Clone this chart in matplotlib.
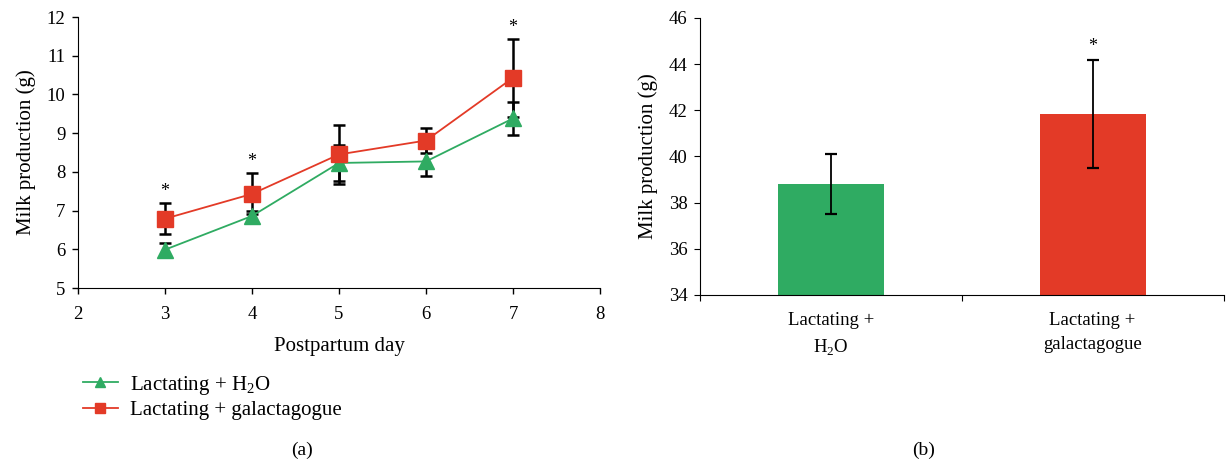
import matplotlib
matplotlib.use("Agg")
import matplotlib.pyplot as plt
import numpy as np

plt.rcParams['font.family'] = ['Liberation Serif', 'DejaVu Serif']
plt.rcParams['mathtext.fontset'] = 'custom'
plt.rcParams['mathtext.rm'] = 'Liberation Serif'

# Panel (a)
days = [3, 4, 5, 6, 7]
h2o_mean = [5.99, 6.86, 8.23, 8.27, 9.38]
h2o_err = [0.18, 0.14, 0.46, 0.38, 0.42]
gal_mean = [6.79, 7.43, 8.45, 8.81, 10.43]
gal_err = [0.40, 0.53, 0.76, 0.32, 1.00]
gal_sig = [True, True, False, False, True]

# Panel (b)
groups = ["Lactating +\nH$_2$O", "Lactating +\ngalactagogue"]
totals = [38.8, 41.85]
totals_err = [1.3, 2.35]
totals_sig = [False, True]

green = '#2fab62'
red = '#e33a27'

fig = plt.figure(figsize=(12.26, 4.65), dpi=100)
ax1 = fig.add_axes([0.0636, 0.3806, 0.4258, 0.5828])
ax2 = fig.add_axes([0.571, 0.3656, 0.427, 0.5957])

fs_tick = 13.5
fs_lab = 15
ax1.errorbar(days, h2o_mean, yerr=h2o_err, fmt='none', ecolor='black',
             elinewidth=1.8, capsize=4.5, capthick=1.8, zorder=2)
ax1.errorbar(days, gal_mean, yerr=gal_err, fmt='none', ecolor='black',
             elinewidth=1.8, capsize=4.5, capthick=1.8, zorder=2)
l1, = ax1.plot(days, h2o_mean, color=green, lw=1.3, marker='^', ms=12,
               mec=green, mfc=green, zorder=3, label='Lactating + H$_2$O')
l2, = ax1.plot(days, gal_mean, color=red, lw=1.3, marker='s', ms=11,
               mec=red, mfc=red, zorder=4, label='Lactating + galactagogue')
for d, m, e, s in zip(days, gal_mean, gal_err, gal_sig):
    if s:
        ax1.text(d, m + e + 0.3, '*', ha='center', va='center', fontsize=13)

ax1.set_xlim(2, 8)
ax1.set_ylim(5, 12)
ax1.set_xticks(range(2, 9))
ax1.set_yticks(range(5, 13))
ax1.spines['top'].set_visible(False)
ax1.spines['right'].set_visible(False)
ax1.tick_params(labelsize=fs_tick, length=4, width=1, direction='out', pad=5)
ax1.tick_params(axis='x', pad=9)
ax1.set_xlabel('Postpartum day', fontsize=fs_lab, labelpad=10)
ax1.set_ylabel('Milk production (g)', fontsize=fs_lab, labelpad=8)

fig.legend(handles=[l1, l2], loc='upper left', bbox_to_anchor=(0.052, 0.237),
           frameon=False, fontsize=fs_lab, handlelength=1.7, handletextpad=0.6,
           labelspacing=0.2, markerscale=0.6)

fig.text(0.2465, 0.022, '(a)', ha='center', fontsize=14)
fig.text(0.7537, 0.022, '(b)', ha='center', fontsize=14)

# Panel (b)
x = np.arange(len(groups))
ax2.bar(x, [t - 34 for t in totals], bottom=34, width=0.405, color=[green, red], zorder=2)
ax2.errorbar(x, totals, yerr=totals_err, fmt='none', ecolor='black',
             elinewidth=1.3, capsize=4.5, capthick=1.6, zorder=3)
for xi, t, e, s in zip(x, totals, totals_err, totals_sig):
    if s:
        ax2.text(xi, t + e + 0.55, '*', ha='center', va='center', fontsize=13)
ax2.set_xlim(-0.5, 1.5)
ax2.set_ylim(34, 46)
ax2.set_yticks(range(34, 47, 2))
ax2.set_xticks([-0.5, 0.5, 1.5])
ax2.set_xticklabels([])
ax2.set_xticks(x, minor=True)
ax2.set_xticklabels(groups, minor=True, fontsize=13.5, linespacing=1.6)
ax2.tick_params(axis='x', which='minor', length=0, pad=12)
ax2.tick_params(axis='x', which='major', length=4)
ax2.tick_params(axis='y', labelsize=fs_tick, length=4, pad=5)
ax2.spines['top'].set_visible(False)
ax2.spines['right'].set_visible(False)
ax2.set_ylabel('Milk production (g)', fontsize=fs_lab, labelpad=8)

fig.savefig('out.png', dpi=100)
